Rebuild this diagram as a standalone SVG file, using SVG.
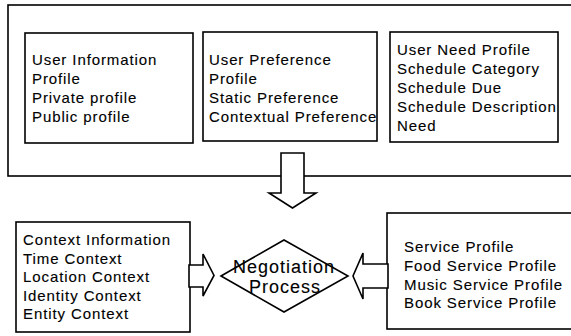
<svg xmlns="http://www.w3.org/2000/svg" width="571" height="336" viewBox="0 0 571 336">
  <style>
    .box { fill: #fff; stroke: #000; stroke-width: 1.6; }
    .frame { fill: none; stroke: #000; stroke-width: 1.6; }
    .lbl { font-family: "Liberation Sans", Arial, sans-serif; font-size: 15px; letter-spacing: 0.9px; fill: #000; stroke: #000; stroke-width: 0.12px; }
    .big { font-family: "Liberation Sans", Arial, sans-serif; font-size: 18px; letter-spacing: 1px; fill: #000; stroke: #000; stroke-width: 0.12px; text-anchor: middle; }
    .arrow { fill: #fff; stroke: #000; stroke-width: 1.6; stroke-linejoin: miter; }
  </style>
  <rect width="571" height="336" fill="#fff"/>

  <!-- user profile frame, open on the right -->
  <g id="user-profile-frame">
    <rect class="frame" x="8" y="5" width="580" height="171"/>
  </g>

  <g id="user-information">
    <rect class="box" x="25" y="33" width="168" height="110"/>
    <text class="lbl" x="32" y="65">User Information</text>
    <text class="lbl" x="32" y="84">Profile</text>
    <text class="lbl" x="32" y="102.5">Private profile</text>
    <text class="lbl" x="32" y="121.5">Public profile</text>
  </g>

  <g id="user-preference">
    <rect class="box" x="203" y="32" width="174" height="109"/>
    <text class="lbl" x="209" y="65">User Preference</text>
    <text class="lbl" x="209" y="84">Profile</text>
    <text class="lbl" x="209" y="102.5">Static Preference</text>
    <text class="lbl" x="209" y="121.5">Contextual Preference</text>
  </g>

  <g id="user-need">
    <rect class="box" x="390" y="32" width="168" height="110"/>
    <text class="lbl" x="397" y="55">User Need Profile</text>
    <text class="lbl" x="397" y="73.5">Schedule Category</text>
    <text class="lbl" x="397" y="92.5">Schedule Due</text>
    <text class="lbl" x="397" y="111.5">Schedule Description</text>
    <text class="lbl" x="397" y="130.5">Need</text>
  </g>

  <g id="context-information">
    <rect class="box" x="16" y="222" width="174" height="110"/>
    <text class="lbl" x="23" y="245">Context Information</text>
    <text class="lbl" x="23" y="263.5">Time Context</text>
    <text class="lbl" x="23" y="282">Location Context</text>
    <text class="lbl" x="23" y="300.5">Identity Context</text>
    <text class="lbl" x="23" y="319">Entity Context</text>
  </g>

  <g id="service-profile">
    <rect class="box" x="387" y="213" width="200" height="116"/>
    <text class="lbl" x="404" y="252">Service Profile</text>
    <text class="lbl" x="404" y="271">Food Service Profile</text>
    <text class="lbl" x="404" y="289.5">Music Service Profile</text>
    <text class="lbl" x="404" y="308">Book Service Profile</text>
  </g>

  <g id="negotiation-process">
    <polygon class="box" points="221,276 284,240 348,276 284,312"/>
    <text class="big" x="284" y="273">Negotiation</text>
    <text class="big" x="285" y="293">Process</text>
  </g>

  <!-- block arrows feeding the negotiation process -->
  <g id="connectors">
    <polygon class="arrow" points="281,153 304,153 304,193 316,193 292.5,208 269,193 281,193"/>
    <polygon class="arrow" points="189,265 203,265 203,254 214,275.5 203,296 203,287 189,287"/>
    <polygon class="arrow" points="388,264 363,264 363,253 353,276 363,299 363,288 388,288"/>
  </g>
</svg>
